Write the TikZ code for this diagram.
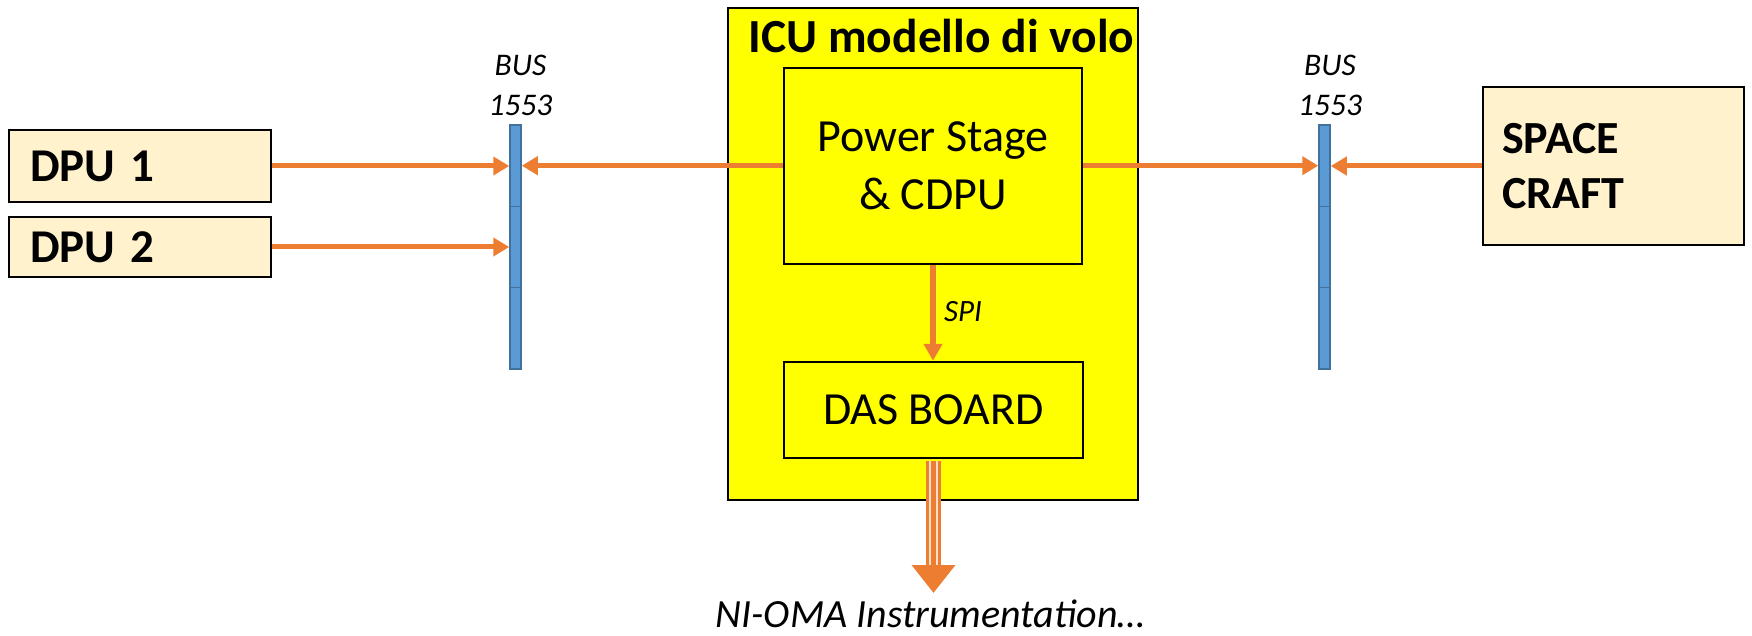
\documentclass[tikz,border=0pt]{standalone}
\usepackage{fontspec}
\setmainfont{Carlito}
\usetikzlibrary{arrows.meta}
\definecolor{arrowor}{HTML}{ED7D31}
\definecolor{beige}{HTML}{FFF2CC}
\definecolor{busblue}{HTML}{5B9BD5}
\definecolor{busedge}{HTML}{41719C}
\definecolor{icuyellow}{HTML}{FFFF00}
\begin{document}
\begin{tikzpicture}[x=1pt,y=-1pt,
  box/.style={draw=black, line width=2.5pt, inner sep=0pt},
  dpubox/.style={box, fill=beige, font=\fontsize{47}{56}\selectfont\bfseries, align=left, inner xsep=21pt, text width=220pt},
  scbox/.style={box, fill=beige, font=\fontsize{46}{55}\selectfont\bfseries, align=left, inner xsep=19pt, text width=223pt, minimum height=158pt},
  icubox/.style={box, fill=icuyellow, minimum width=410pt, minimum height=492pt},
  innerbox/.style={box, fill=icuyellow, font=\fontsize{46}{58}\selectfont, align=center},
  busseg/.style={draw=busedge, fill=busblue, line width=1.5pt, inner sep=0pt, minimum width=11pt, minimum height=81.3pt},
  buslabel/.style={font=\fontsize{31.5}{40}\selectfont\itshape, align=center, inner sep=0pt},
  conn/.style={draw=arrowor, line width=5pt, -{Triangle[length=16pt,width=18pt]}},
]
\useasboundingbox (0,0) rectangle (1752,636);

% boxes
\node[dpubox, minimum height=72pt] (dpu1) at (140,166) {DPU 1};
\node[dpubox, minimum height=60pt] (dpu2) at (140,247) {DPU 2};
\node[scbox] (sc) at (1613.5,166) {SPACE\\CRAFT};

\node[icubox] (icu) at (933,254) {};
\node[font=\fontsize{47.5}{56}\selectfont\bfseries, inner sep=0pt, anchor=base] (icutitle) at (941.5,53) {ICU modello di volo};
\node[innerbox, minimum width=298pt, minimum height=196pt] (ps) at (933,166) {Power Stage\\\& CDPU};
\node[innerbox, minimum width=299pt, minimum height=96pt] (das) at (933.5,410) {DAS BOARD};

% buses
\node[busseg] (busL1) at (515.5,165.7) {};
\node[busseg] (busL2) at (515.5,247) {};
\node[busseg] (busL3) at (515.5,328.3) {};
\node[busseg] (busR1) at (1324.5,165.7) {};
\node[busseg] (busR2) at (1324.5,247) {};
\node[busseg] (busR3) at (1324.5,328.3) {};
\node[buslabel] (busLlab) at (520.5,85) {BUS\\1553};
\node[buslabel] (busRlab) at (1330,85) {BUS\\1553};

% connectors
\draw[conn] (ps.west |- busL1.east) -- (busL1.east);
\draw[conn] (dpu1.east) -- (dpu1.east -| busL1.west);
\draw[conn] (dpu2.east) -- (dpu2.east -| busL2.west);
\draw[conn] (ps.east |- busR1.west) -- (busR1.west);
\draw[conn] (sc.west) -- (sc.west -| busR1.east);

% SPI
\draw[draw=arrowor, line width=6pt, -{Triangle[length=17pt,width=18pt]}] (ps.south) -- (ps.south |- das.north);
\node[font=\fontsize{31}{36}\selectfont\itshape, inner sep=0pt] (spi) at (963,312) {SPI};

% output triple arrow
\coordinate (outtip) at (933.5,593);
\draw[draw=arrowor, line width=15pt, -{Triangle[length=28pt,width=42pt]}] ([yshift=-1.5pt]das.south) -- (outtip);
\draw[draw=arrowor!25, line width=1.8pt] ([xshift=-3.5pt,yshift=-1.5pt]das.south) -- ([xshift=-3.5pt,yshift=28pt]outtip);
\draw[draw=arrowor!25, line width=1.8pt] ([xshift=3.5pt,yshift=-1.5pt]das.south) -- ([xshift=3.5pt,yshift=28pt]outtip);
\node[font=\fontsize{40}{48}\selectfont\itshape, inner sep=0pt, anchor=base] (ni) at (930.5,627) {NI-OMA Instrumentation…};
\end{tikzpicture}
\end{document}
